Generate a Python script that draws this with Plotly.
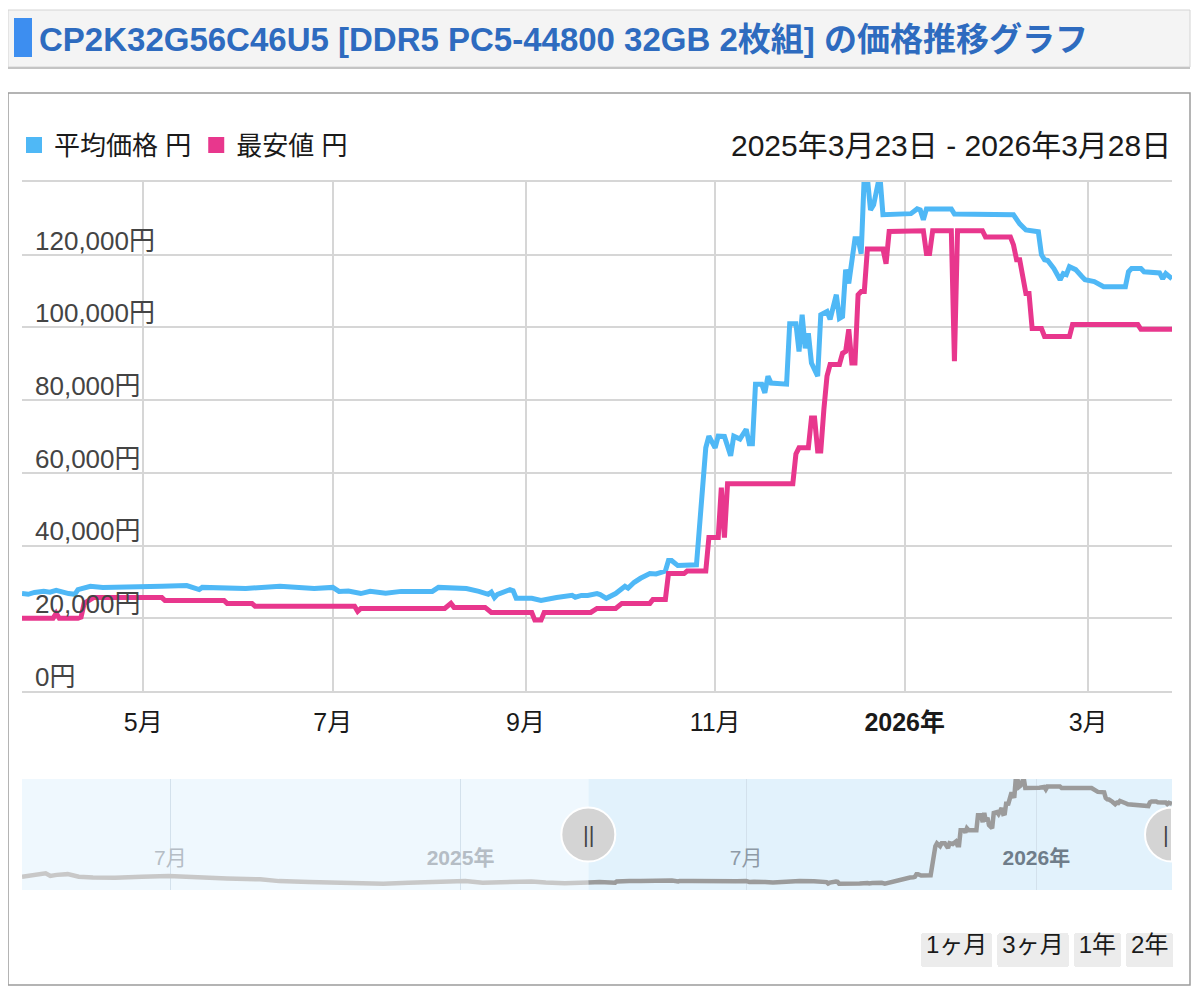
import plotly.graph_objects as go

# average price (円) in the shown window
avg_dates = [
    "2025-03-23", "2025-03-25", "2025-03-27", "2025-03-30", "2025-04-01", "2025-04-03", "2025-04-07",
    "2025-04-09", "2025-04-10", "2025-04-14", "2025-04-18", "2025-04-25", "2025-05-01", "2025-05-07",
    "2025-05-15", "2025-05-19", "2025-05-20", "2025-05-28", "2025-06-03", "2025-06-14", "2025-06-25",
    "2025-07-01", "2025-07-03", "2025-07-06", "2025-07-10", "2025-07-13", "2025-07-18", "2025-07-23",
    "2025-08-02", "2025-08-04", "2025-08-13", "2025-08-17", "2025-08-20", "2025-08-21", "2025-08-22",
    "2025-08-23", "2025-08-27", "2025-08-28", "2025-08-29", "2025-09-03", "2025-09-06", "2025-09-11",
    "2025-09-16", "2025-09-17", "2025-09-19", "2025-09-21", "2025-09-24", "2025-09-25", "2025-09-27",
    "2025-09-30", "2025-10-03", "2025-10-04", "2025-10-06", "2025-10-08", "2025-10-11", "2025-10-13",
    "2025-10-15", "2025-10-16", "2025-10-17", "2025-10-18", "2025-10-20", "2025-10-26", "2025-10-29",
    "2025-10-30", "2025-11-01", "2025-11-02", "2025-11-04", "2025-11-06", "2025-11-07", "2025-11-09",
    "2025-11-11", "2025-11-12", "2025-11-13", "2025-11-14", "2025-11-16", "2025-11-17", "2025-11-18",
    "2025-11-19", "2025-11-24", "2025-11-25", "2025-11-27", "2025-11-28", "2025-11-29", "2025-11-30",
    "2025-12-01", "2025-12-02", "2025-12-04", "2025-12-05", "2025-12-07", "2025-12-08", "2025-12-10",
    "2025-12-11", "2025-12-12", "2025-12-13", "2025-12-14", "2025-12-15", "2025-12-16", "2025-12-17",
    "2025-12-18", "2025-12-19", "2025-12-20", "2025-12-21", "2025-12-22", "2025-12-24", "2025-12-25",
    "2026-01-03", "2026-01-05", "2026-01-06", "2026-01-07", "2026-01-08", "2026-01-16", "2026-01-17",
    "2026-02-05", "2026-02-07", "2026-02-09", "2026-02-13", "2026-02-14", "2026-02-15", "2026-02-16",
    "2026-02-18", "2026-02-20", "2026-02-21", "2026-02-22", "2026-02-23", "2026-02-25", "2026-02-27",
    "2026-02-28", "2026-03-03", "2026-03-06", "2026-03-13", "2026-03-14", "2026-03-15", "2026-03-18",
    "2026-03-19", "2026-03-22", "2026-03-24", "2026-03-25", "2026-03-26", "2026-03-28",
]
avg_prices = [
    26800, 26600, 27100, 27400, 27200, 27700, 26800,
    26600, 27900, 28800, 28500, 28500, 28700, 28800,
    29000, 27900, 28500, 28500, 28200, 28800, 28200,
    28500, 27400, 27500, 26800, 27400, 26900, 27400,
    27400, 28500, 28200, 27400, 26600, 27200, 25700,
    26600, 27900, 27600, 25500, 25500, 24900, 25700,
    26300, 25800, 26300, 26300, 26800, 26500, 25500,
    26800, 28800, 28300, 29900, 31000, 32300, 32200,
    32600, 33000, 35900, 35900, 34500, 34700, 66900,
    70100, 66900, 70100, 70000, 64700, 70100, 69300,
    72000, 68000, 68000, 84400, 84400, 82000, 86600,
    84700, 84400, 101000, 101000, 93400, 103500, 94300,
    98400, 90200, 86600, 103500, 104400, 102200, 109000,
    102500, 103000, 115900, 112100, 119500, 124400, 124400,
    120300, 142000, 141000, 132300, 133700, 142000, 131000,
    131300, 132600, 132300, 129600, 132600, 132600, 131200,
    131000, 128500, 126800, 126300, 120000, 118600, 118400,
    116200, 113100, 114800, 114500, 116700, 115900, 114000,
    113100, 112600, 111200, 111200, 115300, 116200, 116200,
    115300, 115000, 115000, 113400, 114800, 113400,
]

# lowest price (円)
min_dates = [
    "2025-03-23", "2025-04-02", "2025-04-03", "2025-04-04", "2025-04-10", "2025-04-11", "2025-04-12",
    "2025-04-15", "2025-05-07", "2025-05-08", "2025-05-27", "2025-05-28", "2025-06-05", "2025-06-06",
    "2025-07-08", "2025-07-09", "2025-07-10", "2025-08-06", "2025-08-08", "2025-08-09", "2025-08-19",
    "2025-08-21", "2025-09-03", "2025-09-04", "2025-09-06", "2025-09-07", "2025-09-22", "2025-09-24",
    "2025-09-30", "2025-10-02", "2025-10-11", "2025-10-12", "2025-10-16", "2025-10-17", "2025-10-22",
    "2025-10-23", "2025-10-29", "2025-10-30", "2025-11-02", "2025-11-03", "2025-11-04", "2025-11-05",
    "2025-11-26", "2025-11-27", "2025-11-28", "2025-12-01", "2025-12-02", "2025-12-03", "2025-12-04",
    "2025-12-05", "2025-12-06", "2025-12-07", "2025-12-08", "2025-12-11", "2025-12-12", "2025-12-13",
    "2025-12-14", "2025-12-15", "2025-12-16", "2025-12-17", "2025-12-18", "2025-12-19", "2025-12-20",
    "2025-12-25", "2025-12-26", "2025-12-27", "2026-01-07", "2026-01-08", "2026-01-09", "2026-01-10",
    "2026-01-16", "2026-01-17", "2026-01-18", "2026-01-26", "2026-01-27", "2026-02-04", "2026-02-05",
    "2026-02-06", "2026-02-07", "2026-02-09", "2026-02-10", "2026-02-11", "2026-02-14", "2026-02-15",
    "2026-02-23", "2026-02-24", "2026-03-17", "2026-03-18", "2026-03-28",
]
min_prices = [
    20000, 20000, 21400, 20000, 20000, 20300, 24100,
    25700, 25700, 24900, 24900, 24100, 24100, 23300,
    23300, 21900, 22700, 22700, 24100, 23000, 23000,
    21600, 21600, 19500, 19500, 21600, 21600, 22700,
    22700, 24100, 24100, 25200, 25200, 32300, 32300,
    33000, 33000, 42200, 42200, 55900, 42200, 57000,
    57000, 65200, 66900, 66900, 75100, 75100, 66000,
    66000, 77500, 86600, 89800, 89800, 92900, 93400,
    99500, 90200, 90200, 109000, 109900, 109900, 121600,
    121600, 117500, 126400, 126600, 120300, 120300, 126600,
    126600, 90700, 126600, 126600, 124900, 124900, 122700,
    118600, 118600, 109300, 109300, 99700, 99700, 97500,
    97500, 100800, 100800, 99500, 99500,
]

# navigator: average price before the window
nav_dates = [
    "2024-03-29", "2024-04-06", "2024-04-13", "2024-04-16", "2024-04-20", "2024-04-27", "2024-05-04",
    "2024-05-13", "2024-05-27", "2024-06-13", "2024-06-30", "2024-07-11", "2024-07-21", "2024-08-06",
    "2024-08-27", "2024-09-08", "2024-09-27", "2024-10-13", "2024-10-25", "2024-11-13", "2024-11-29",
    "2024-12-11", "2024-12-25", "2025-01-04", "2025-01-15", "2025-01-27", "2025-02-08", "2025-02-15",
    "2025-02-24", "2025-03-08", "2025-03-23",
]
nav_prices = [
    33000, 35000, 37000, 34000, 35200, 36000, 33200,
    32200, 32000, 33000, 34000, 33200, 32200, 31200,
    30300, 28300, 27300, 26400, 25500, 25500, 26500,
    27500, 28500, 28500, 26600, 27600, 28600, 28000,
    26700, 26000, 26800,
]

win_start, win_end = "2025-03-23", "2026-03-28"
nav_start = "2024-03-29"

month_ticks = ["2025-05-01", "2025-07-01", "2025-09-01", "2025-11-01", "2026-01-01", "2026-03-01"]
month_labels = ["5月", "7月", "9月", "11月", "<b>2026年</b>", "3月"]
y_ticks = [0, 20000, 40000, 60000, 80000, 100000, 120000]
y_labels = ["0円", "20,000円", "40,000円", "60,000円", "80,000円", "100,000円", "120,000円"]
nav_ticks = ["2024-07-01", "2025-01-01", "2025-07-01", "2026-01-01"]
nav_labels = [
    "<span style='color:#b5bdc5'>7月</span>",
    "<span style='color:#b5bdc5'><b>2025年</b></span>",
    "<span style='color:#8e9aa6'>7月</span>",
    "<span style='color:#6f7d8a'><b>2026年</b></span>",
]
range_buttons = [("1ヶ月", 1, "month"), ("3ヶ月", 3, "month"), ("1年", 1, "year"), ("2年", 2, "year")]

BLUE = "#4fb8f6"
PINK = "#e8378d"
FONT = "Liberation Sans, Noto Sans CJK JP, sans-serif"
# the page body has an 8px margin, so the figure sits at (8, 8)
W, H = 1184, 991
Y_PER_PX = 140000 / (691 - 182)


def fx(x):
    return (x - 8) / W


def fy(y):
    return 1 - (y - 8) / H


fig = go.Figure()
fig.add_trace(go.Scatter(x=avg_dates, y=avg_prices, mode="lines", line=dict(color=BLUE, width=5),
                         showlegend=False, hoverinfo="x+y"))
fig.add_trace(go.Scatter(x=min_dates, y=min_prices, mode="lines", line=dict(color=PINK, width=5),
                         showlegend=False, hoverinfo="x+y"))
# legend swatches
fig.add_trace(go.Scatter(x=[None], y=[None], mode="markers", name="平均価格 円",
                         marker=dict(symbol="square", size=18, color=BLUE)))
fig.add_trace(go.Scatter(x=[None], y=[None], mode="markers", name="最安値 円",
                         marker=dict(symbol="square", size=18, color=PINK)))
# navigator
fig.add_trace(go.Scatter(x=nav_dates, y=nav_prices, mode="lines", line=dict(color="#c8c8c8", width=4.5),
                         xaxis="x2", yaxis="y2", showlegend=False, hoverinfo="skip"))
fig.add_trace(go.Scatter(x=avg_dates, y=avg_prices, mode="lines", line=dict(color="#9b9b9b", width=4.5),
                         xaxis="x2", yaxis="y2", showlegend=False, hoverinfo="skip"))
# empty trace on a twin subplot that only carries the inside y labels
# (keeps plotly from hiding the 5月 tick behind them)
fig.add_trace(go.Scatter(x=[None], y=[None], xaxis="x3", yaxis="y3", showlegend=False, hoverinfo="skip"))

half_disc = "M 0,-27 C -14.9,-27 -27,-14.9 -27,0 C -27,14.9 -14.9,27 0,27 Z"
shapes = [
    # title box
    dict(type="rect", xref="paper", yref="paper", x0=fx(8), x1=fx(1190), y0=fy(67), y1=fy(10),
         fillcolor="#f4f4f4", line=dict(color="#d4d4d4", width=1), layer="below"),
    dict(type="line", xref="paper", yref="paper", x0=fx(8), x1=fx(1190), y0=fy(68), y1=fy(68),
         line=dict(color="#c4c4c4", width=2)),
    dict(type="rect", xref="paper", yref="paper", x0=fx(14), x1=fx(32), y0=fy(57), y1=fy(18),
         fillcolor="#3d8ef0", line=dict(width=0)),
    # chart frame
    dict(type="rect", xref="paper", yref="paper", x0=fx(8), x1=fx(1190), y0=fy(985), y1=fy(93),
         line=dict(color="#9c9c9c", width=1.5), layer="below"),
    # navigator masks
    dict(type="rect", xref="x2", yref="y2 domain", x0=nav_start, x1=win_start, y0=0, y1=1,
         fillcolor="#eff8fe", line=dict(width=0), layer="below"),
    dict(type="rect", xref="x2", yref="y2 domain", x0=win_start, x1=win_end, y0=0, y1=1,
         fillcolor="#e2f2fc", line=dict(width=0), layer="below"),
    # navigator handles
    dict(type="circle", xref="x2", yref="y2 domain", xsizemode="pixel", ysizemode="pixel",
         xanchor=win_start, yanchor=0.5, x0=-27, x1=27, y0=-27, y1=27,
         fillcolor="#d4d4d4", line=dict(color="white", width=2)),
    dict(type="path", xref="x2", yref="y2 domain", xsizemode="pixel", ysizemode="pixel",
         xanchor=win_end, yanchor=0.5, path=half_disc,
         fillcolor="#d4d4d4", line=dict(color="white", width=2)),
]

annotations = [
    dict(text="<b>CP2K32G56C46U5 [DDR5 PC5-44800 32GB 2枚組] の価格推移グラフ</b>",
         xref="paper", yref="paper", x=fx(37), y=fy(40), xanchor="left", yanchor="middle",
         showarrow=False, font=dict(size=33, color="#2e6bbf")),
    dict(text="2025年3月23日 - 2026年3月28日", xref="paper", yref="paper", x=fx(1173), y=fy(145),
         xanchor="right", yanchor="middle", showarrow=False, font=dict(size=30, color="#1a1a1a")),
    dict(text="||", xref="x2", yref="y2 domain", x=win_start, y=0.5, showarrow=False,
         font=dict(size=22, color="#444")),
    dict(text="|", xref="x2", yref="y2 domain", x=win_end, y=0.5, xshift=-6, showarrow=False,
         font=dict(size=22, color="#444")),
]

fig.update_layout(
    width=W, height=H,
    margin=dict(l=0, r=0, t=0, b=0, autoexpand=False),
    paper_bgcolor="white", plot_bgcolor="rgba(0,0,0,0)",
    font=dict(family=FONT, size=25, color="#1a1a1a"),
    xaxis=dict(
        domain=[fx(22), fx(1172)], range=[win_start, win_end], type="date", anchor="y",
        tickvals=month_ticks, ticktext=month_labels, ticks="", ticklabelstandoff=8,
        showgrid=True, gridcolor="#d6d6d6", gridwidth=1.5,
        showline=True, mirror=True, linecolor="#d6d6d6", linewidth=1.5,
        rangeselector=dict(
            buttons=[dict(label=l, count=c, step=s, stepmode="backward") for l, c, s in range_buttons],
            x=fx(1178), xanchor="right", y=fy(950), yanchor="middle",
            bgcolor="#ececec", activecolor="#ececec", borderwidth=0,
            font=dict(size=24, color="#1a1a1a"),
        ),
    ),
    yaxis=dict(
        domain=[fy(691), fy(182)], range=[0, 140000], anchor="x",
        tickvals=y_ticks, showticklabels=False,
        showgrid=True, gridcolor="#d6d6d6", gridwidth=1.5, zeroline=False, showline=False, ticks="",
    ),
    # label axis reaches 12px lower so the 0円 label is not dropped; scale is unchanged
    xaxis3=dict(
        domain=[fx(22), fx(1172)], range=[win_start, win_end], type="date", anchor="y3",
        showticklabels=False, showgrid=False, showline=False, zeroline=False, ticks="",
    ),
    yaxis3=dict(
        domain=[fy(703), fy(182)], range=[-12 * Y_PER_PX, 140000], anchor="x3",
        tickvals=y_ticks, ticktext=y_labels, ticklabelposition="inside top", ticklabelstandoff=10,
        ticklabelshift=4, tickfont=dict(size=26),
        showgrid=False, zeroline=False, showline=False, ticks="",
    ),
    xaxis2=dict(
        domain=[fx(22), fx(1172)], range=[nav_start, win_end], type="date", anchor="y2",
        tickvals=nav_ticks, ticktext=nav_labels, ticklabelposition="inside", ticks="",
        ticklabelstandoff=18, tickfont=dict(size=21),
        showgrid=True, gridcolor="#d3e1ec", gridwidth=1, showline=False,
    ),
    yaxis2=dict(domain=[fy(890), fy(779)], range=[18500, 141000], visible=False, anchor="x2"),
    legend=dict(orientation="h", x=fx(14), xanchor="left", y=fy(145), yanchor="middle",
                font=dict(size=26), bgcolor="rgba(0,0,0,0)"),
    shapes=shapes,
    annotations=annotations,
)

fig.write_html("out.html")
